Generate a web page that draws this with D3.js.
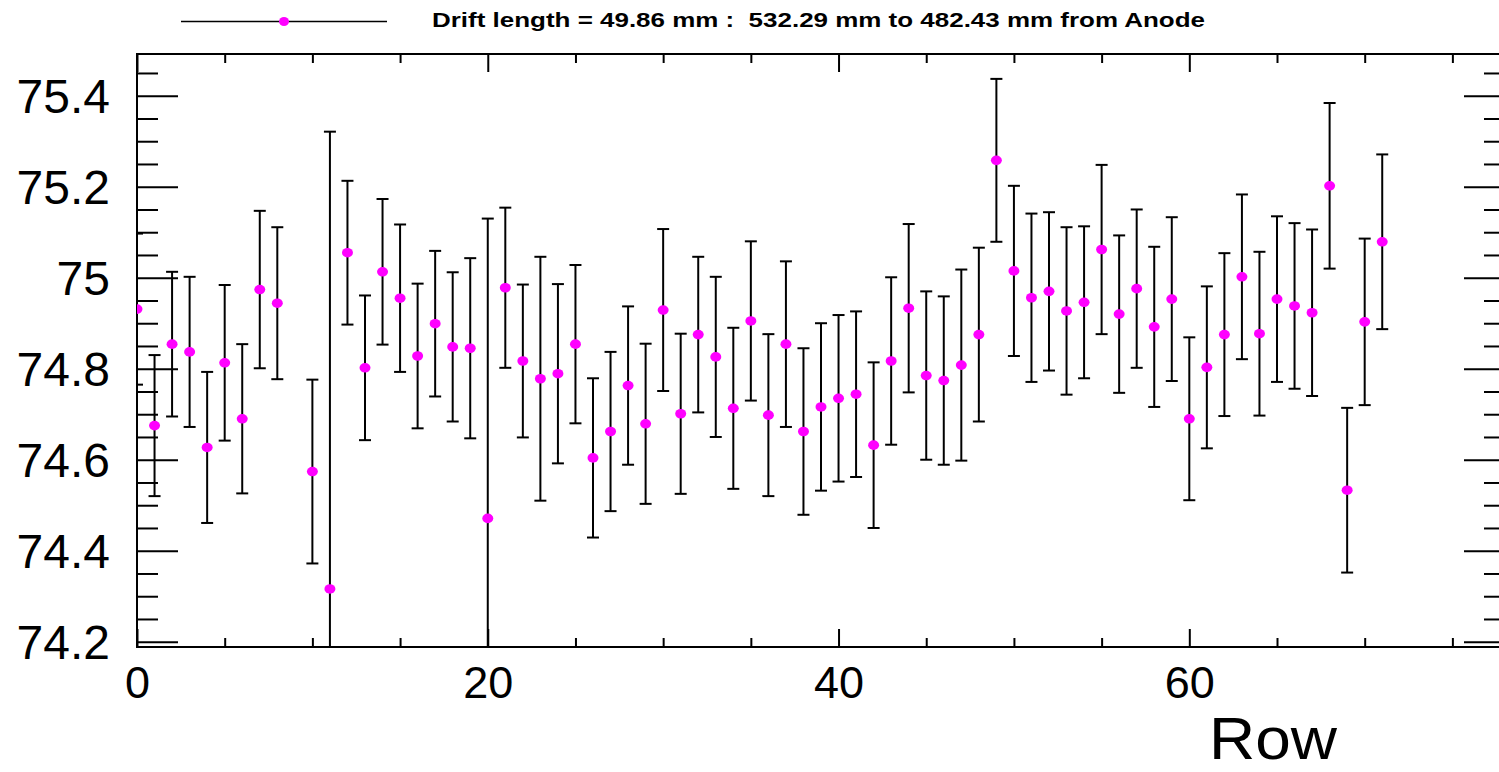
<!DOCTYPE html>
<html lang="en">
<head>
<meta charset="UTF-8">
<title>Drift length row profile</title>
<script src="https://d3js.org/d3.v7.min.js"></script>
<style>
    body { margin: 0; background: #fff; }
    .axis path.domain { display: none; }
    .axis line { stroke: #000; stroke-width: 2; }
    .axis text { font-family: "Liberation Sans", Arial, sans-serif; fill: #000; }
</style>
</head>
<body>
<svg id="chart" width="1499" height="772"></svg>
<script>
// Row numbers (row 9 has no entry)
const rows = [0,1,2,3,4,5,6,7,8,10,11,12,13,14,15,16,17,18,19,20,21,22,23,24,25,26,27,28,29,30,
    31,32,33,34,35,36,37,38,39,40,41,42,43,44,45,46,47,48,49,50,51,52,53,54,55,56,57,58,59,60,
    61,62,63,64,65,66,67,68,69,70,71];

// Mean value per row
const values = [74.931,74.675,74.854,74.837,74.627,74.813,74.690,74.974,74.944,74.574,74.316,
    75.055,74.802,75.013,74.955,74.828,74.899,74.848,74.845,74.471,74.978,74.817,74.778,74.789,
    74.854,74.604,74.662,74.763,74.679,74.929,74.701,74.875,74.826,74.713,74.905,74.698,74.854,
    74.662,74.716,74.735,74.744,74.632,74.817,74.933,74.785,74.774,74.808,74.875,75.258,75.015,
    74.956,74.970,74.927,74.946,75.062,74.920,74.976,74.892,74.953,74.690,74.803,74.875,75.002,
    74.877,74.953,74.938,74.923,75.202,74.533,74.903,75.079];

// Error (half length of the bar)
const errors = [0.166,0.155,0.159,0.165,0.166,0.171,0.164,0.173,0.167,0.202,1.005,
    0.158,0.159,0.160,0.162,0.159,0.160,0.164,0.198,0.659,0.176,0.168,0.268,0.197,
    0.174,0.175,0.175,0.174,0.176,0.178,0.176,0.171,0.176,0.177,0.175,0.178,0.182,
    0.183,0.184,0.183,0.182,0.182,0.184,0.185,0.185,0.185,0.210,0.191,0.179,0.187,
    0.185,0.174,0.184,0.167,0.186,0.173,0.174,0.176,0.180,0.179,0.178,0.179,0.181,
    0.180,0.182,0.182,0.183,0.182,0.181,0.183,0.192];

const yMajorTicks = [74.2, 74.4, 74.6, 74.8, 75, 75.2, 75.4];
const xMajorTicks = [0, 20, 40, 60];
const titleText = "Drift length = 49.86 mm :  532.29 mm to 482.43 mm from Anode";
const xTitle = "Row";

const points = rows.map((r, i) => ({ row: r, val: values[i], err: errors[i] }));

const svg = d3.select("#chart");
const mLeft = 137, mRight = 1505, mTop = 54, mBottom = 647;

const x = d3.scaleLinear().domain([0, 78]).range([mLeft, mRight]);
const y = d3.scaleLinear().domain([74.1884, 75.4917]).range([mBottom, mTop]);

const xMinor = d3.range(0, 78.01, 5).filter(v => !xMajorTicks.includes(v));
const yMinor = d3.range(74.2, 75.49, 0.05).map(v => +v.toFixed(2))
    .filter(v => !yMajorTicks.some(t => Math.abs(t - v) < 1e-6));
const fmt = d => String(+d.toFixed(1));

// clip for data
svg.append("clipPath").attr("id", "clip")
    .append("rect").attr("x", mLeft).attr("y", mTop)
    .attr("width", mRight - mLeft).attr("height", mBottom - mTop);

// axes
svg.append("g").attr("class", "axis")
    .attr("transform", `translate(0,${mBottom})`)
    .call(d3.axisBottom(x).tickValues(xMajorTicks).tickSize(-18).tickPadding(19).tickFormat(d3.format("d")))
    .selectAll("text").style("font-size", "45px");
svg.append("g").attr("class", "axis")
    .attr("transform", `translate(0,${mBottom})`)
    .call(d3.axisBottom(x).tickValues(xMinor).tickSize(-9).tickFormat(""));
svg.append("g").attr("class", "axis")
    .attr("transform", `translate(0,${mTop})`)
    .call(d3.axisTop(x).tickValues(xMajorTicks).tickSize(-18).tickFormat(""));
svg.append("g").attr("class", "axis")
    .attr("transform", `translate(0,${mTop})`)
    .call(d3.axisTop(x).tickValues(xMinor).tickSize(-9).tickFormat(""));

svg.append("g").attr("class", "axis")
    .attr("transform", `translate(${mLeft},0)`)
    .call(d3.axisLeft(y).tickValues(yMajorTicks).tickSize(-41).tickPadding(27).tickFormat(fmt))
    .selectAll("text").style("font-size", "48px").attr("dy", "0.35em");
svg.append("g").attr("class", "axis")
    .attr("transform", `translate(${mLeft},0)`)
    .call(d3.axisLeft(y).tickValues(yMinor).tickSize(-21).tickFormat(""));
svg.append("g").attr("class", "axis")
    .attr("transform", `translate(${mRight},0)`)
    .call(d3.axisRight(y).tickValues(yMajorTicks).tickSize(-41).tickFormat(""));
svg.append("g").attr("class", "axis")
    .attr("transform", `translate(${mRight},0)`)
    .call(d3.axisRight(y).tickValues(yMinor).tickSize(-21).tickFormat(""));

// frame
svg.append("rect")
    .attr("x", mLeft).attr("y", mTop)
    .attr("width", mRight - mLeft).attr("height", mBottom - mTop)
    .attr("fill", "none").attr("stroke", "#000").attr("stroke-width", 2);

// error bars and markers
const dataG = svg.append("g").attr("clip-path", "url(#clip)");
const bars = dataG.selectAll(".err").data(points).enter().append("g").attr("class", "err")
    .attr("stroke", "#000").attr("stroke-width", 2);
bars.append("line")
    .attr("x1", d => x(d.row)).attr("x2", d => x(d.row))
    .attr("y1", d => y(d.val - d.err)).attr("y2", d => y(d.val + d.err));
bars.append("line")
    .attr("x1", d => x(d.row) - 6).attr("x2", d => x(d.row) + 6)
    .attr("y1", d => y(d.val + d.err)).attr("y2", d => y(d.val + d.err));
bars.append("line")
    .attr("x1", d => x(d.row) - 6).attr("x2", d => x(d.row) + 6)
    .attr("y1", d => y(d.val - d.err)).attr("y2", d => y(d.val - d.err));

dataG.selectAll(".pt").data(points).enter().append("ellipse")
    .attr("class", "pt")
    .attr("cx", d => x(d.row)).attr("cy", d => y(d.val))
    .attr("rx", 5.5).attr("ry", 4.8)
    .attr("fill", "#ff00ff");

// legend
svg.append("line").attr("x1", 181).attr("x2", 387).attr("y1", 21.5).attr("y2", 21.5)
    .attr("stroke", "#000").attr("stroke-width", 1.5);
svg.append("ellipse").attr("cx", 284).attr("cy", 21.5).attr("rx", 5).attr("ry", 4.5)
    .attr("fill", "#ff00ff");
svg.append("text")
    .attr("x", 432).attr("y", 27)
    .attr("textLength", 773).attr("lengthAdjust", "spacingAndGlyphs")
    .style("white-space", "pre")
    .style("font-family", "'Liberation Sans', Arial, sans-serif")
    .style("font-weight", "bold").style("font-size", "21px")
    .text(titleText);

// x axis title
svg.append("text")
    .attr("x", 1337).attr("y", 759)
    .attr("text-anchor", "end")
    .attr("textLength", 128).attr("lengthAdjust", "spacingAndGlyphs")
    .style("font-family", "'Liberation Sans', Arial, sans-serif")
    .style("font-size", "59px")
    .text(xTitle);
</script>
</body>
</html>
